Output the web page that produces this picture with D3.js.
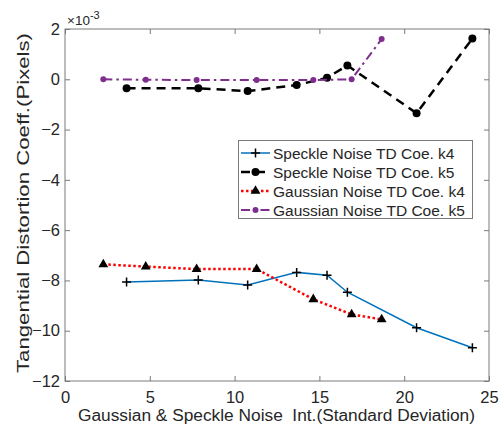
<!DOCTYPE html>
<meta charset="utf-8">
<style>
  body { margin: 0; background: #fff; }
  text { font-family: "Liberation Sans", Arial, sans-serif; fill: #262626; }
  .axis path, .axis line { stroke: #7a7a7a; }
</style>
<body>
<script src="https://d3js.org/d3.v7.min.js"></script>
<script>
// data (y in units of 1e-3)
var speckleX = [3.63, 7.86, 10.77, 13.66, 15.45, 16.65, 20.73, 24.02];
var speckleK4 = [-8.06, -7.98, -8.18, -7.68, -7.79, -8.47, -9.88, -10.68];
var speckleK5 = [-0.36, -0.36, -0.47, -0.23, 0.06, 0.55, -1.35, 1.62];
var gaussX = [2.26, 4.76, 7.76, 11.3, 14.64, 16.9, 18.67];
var gaussK4 = [-7.36, -7.45, -7.55, -7.55, -8.75, -9.35, -9.55];
var gaussK5 = [0.0, -0.02, -0.03, -0.03, -0.03, 0.0, 1.6];
var xTicks = [0, 5, 10, 15, 20, 25];
var yTicks = [2, 0, -2, -4, -6, -8, -10, -12];
var labels = ["Speckle Noise TD Coe. k4", "Speckle Noise TD Coe. k5",
              "Gaussian Noise TD Coe. k4", "Gaussian Noise TD Coe. k5"];

var width = 503, height = 426;
var pl = 65, pr = 489, pt = 29, pb = 381;

var svg = d3.select("body").append("svg")
    .attr("width", width)
    .attr("height", height);

var x = d3.scaleLinear().domain([0, 25]).range([pl, pr]);
var y = d3.scaleLinear().domain([-12, 2]).range([pb, pt]);

// box
svg.append("rect")
    .attr("x", pl).attr("y", pt)
    .attr("width", pr - pl).attr("height", pb - pt)
    .attr("fill", "none").attr("stroke", "#7a7a7a");

svg.append("g").attr("class", "axis")
    .attr("transform", "translate(0," + pb + ")")
    .call(d3.axisBottom(x).tickValues(xTicks).tickSizeInner(-5).tickSizeOuter(0).tickPadding(10));
svg.append("g").attr("class", "axis")
    .attr("transform", "translate(0," + pt + ")")
    .call(d3.axisTop(x).tickValues(xTicks).tickSizeInner(-5).tickSizeOuter(0).tickFormat(""));
svg.append("g").attr("class", "axis")
    .attr("transform", "translate(" + pl + ",0)")
    .call(d3.axisLeft(y).tickValues(yTicks).tickSizeInner(-5).tickSizeOuter(0).tickPadding(5));
svg.append("g").attr("class", "axis")
    .attr("transform", "translate(" + pr + ",0)")
    .call(d3.axisRight(y).tickValues(yTicks).tickSizeInner(-5).tickSizeOuter(0).tickFormat(""));
svg.selectAll(".axis .domain").remove();
svg.selectAll(".axis text")
    .style("font-size", "16.5px")
    .attr("fill", "#262626");

// exponent
var ex = svg.append("text").attr("x", 67).attr("y", 25).style("font-size", "13.5px");
ex.append("tspan").text("\u00d710");
ex.append("tspan").attr("dy", -6).style("font-size", "11px").text("-3");

// axis labels
svg.append("text")
    .attr("x", 78).attr("y", 421)
    .attr("textLength", 397)
    .attr("lengthAdjust", "spacingAndGlyphs")
    .style("font-size", "16px")
    .attr("xml:space", "preserve")
    .text("Gaussian & Speckle Noise  Int.(Standard Deviation)");
svg.append("text")
    .attr("transform", "translate(29,373) rotate(-90)")
    .attr("textLength", 340)
    .attr("lengthAdjust", "spacingAndGlyphs")
    .style("font-size", "16px")
    .text("Tangential Distortion Coeff.(Pixels)");

var series = [
  {xs: speckleX, ys: speckleK4, color: "#0072BD", width: 1.5, dash: null, marker: "plus"},
  {xs: speckleX, ys: speckleK5, color: "#000000", width: 2.5, dash: "9,6", marker: "circle"},
  {xs: gaussX, ys: gaussK4, color: "#ff0000", width: 2.5, dash: "2.5,2.5", marker: "triangle"},
  {xs: gaussX, ys: gaussK5, color: "#7E2F8E", width: 2, dash: "9,4,2.5,4", marker: "square"}
];

var line = d3.line().x(function(d) { return x(d[0]); }).y(function(d) { return y(d[1]); });

function drawMarker(g, type, color) {
  if (type == "plus") {
    g.append("path").attr("d", "M-4.5,0H4.5M0,-4.5V4.5").attr("stroke", "#000").attr("stroke-width", 1.5);
  } else if (type == "circle") {
    g.append("circle").attr("r", 4).attr("fill", "#000");
  } else if (type == "triangle") {
    g.append("path").attr("d", d3.symbol().type(d3.symbolTriangle).size(42)).attr("fill", "#000");
  } else {
    g.append("circle").attr("r", 3).attr("fill", color);
  }
}

series.forEach(function(s) {
  var pts = s.xs.map(function(v, i) { return [v, s.ys[i]]; });
  svg.append("path")
      .datum(pts)
      .attr("d", line)
      .attr("fill", "none")
      .attr("stroke", s.color)
      .attr("stroke-width", s.width)
      .attr("stroke-dasharray", s.dash);
  pts.forEach(function(p) {
    var g = svg.append("g").attr("transform", "translate(" + x(p[0]) + "," + y(p[1]) + ")");
    drawMarker(g, s.marker, s.color);
  });
});

// legend
var lg = svg.append("g");
lg.append("rect")
    .attr("x", 238.5).attr("y", 140.5)
    .attr("width", 234).attr("height", 78)
    .attr("fill", "#fff").attr("stroke", "#7a7a7a");
series.forEach(function(s, i) {
  var yy = 153 + i * 19;
  lg.append("line")
      .attr("x1", 241).attr("x2", 270).attr("y1", yy).attr("y2", yy)
      .attr("stroke", s.color).attr("stroke-width", s.width)
      .attr("stroke-dasharray", s.dash);
  var g = lg.append("g").attr("transform", "translate(255.5," + yy + ")");
  drawMarker(g, s.marker, s.color);
  lg.append("text")
      .attr("x", 273).attr("y", yy + 5.5)
      .style("font-size", "15.5px")
      .text(labels[i]);
});
</script>
